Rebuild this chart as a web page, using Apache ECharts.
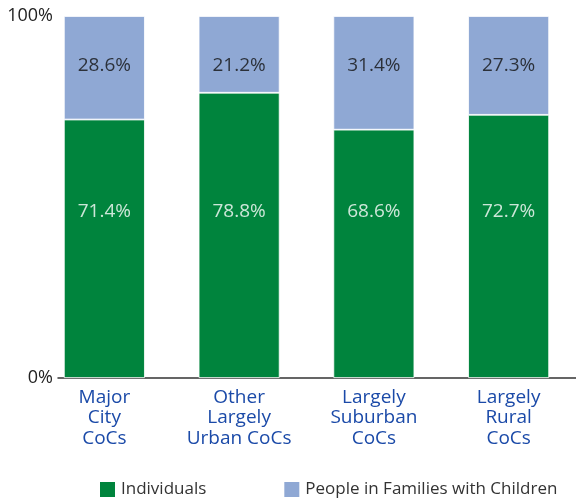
<!DOCTYPE html>
<html><head><meta charset="utf-8">
<script src="https://cdn.jsdelivr.net/npm/echarts@6/dist/echarts.min.js"></script>
<style>html,body{margin:0;padding:0;background:#fff}#c{width:576px;height:502px}</style>
</head><body><div id="c"></div>
<script>
const categories = ['Major\nCity\nCoCs', 'Other\nLargely\nUrban CoCs', 'Largely\nSuburban\nCoCs', 'Largely\nRural\nCoCs'];
const individuals = [71.4, 78.8, 68.6, 72.7];
const families = [28.6, 21.2, 31.4, 27.3];
const yTicks = ['0%', '100%'];
const seriesNames = ['Individuals', 'People in Families with Children'];

const FONT = '"Open Sans", Lato, sans-serif';
// value-label rows sit at fixed heights in the reference
const TOP_LABEL_Y = 86.4, BOTTOM_LABEL_Y = 46.1;

const chart = echarts.init(document.getElementById('c'), null, {renderer: 'canvas'});
const labelSeries = (vals, yPos, color) => ({
  type: 'scatter', xAxisIndex: 0, yAxisIndex: 0, symbolSize: 0, silent: true, z: 5,
  data: vals.map((v, i) => ({value: [i, yPos], raw: v})),
  label: {show: true, position: 'inside', color: color, fontSize: 19, fontFamily: FONT,
    formatter: p => p.data.raw.toFixed(1) + '%'}
});
chart.setOption({
  animation: false,
  textStyle: {fontFamily: FONT},
  legend: {
    top: 480, left: 98, padding: 0, itemWidth: 17, itemHeight: 17, itemGap: 76, icon: 'rect',
    textStyle: {fontSize: 17, color: '#333', fontFamily: FONT},
    data: seriesNames
  },
  grid: [
    {left: 37, width: 547, top: 16, bottom: 124},
    {left: 58, right: 0, top: 16, bottom: 124}
  ],
  xAxis: [
    {type: 'category', gridIndex: 0, data: categories,
     axisLine: {show: false}, axisTick: {show: false},
     axisLabel: {interval: 0, hideOverlap: false, color: '#1b4aa8', fontSize: 19, lineHeight: 20.5, margin: 9, fontFamily: FONT}},
    {type: 'category', gridIndex: 1, data: ['a'],
     axisLine: {show: true, lineStyle: {color: '#333', width: 1.5}}, axisTick: {show: false}, axisLabel: {show: false}}
  ],
  yAxis: [
    {type: 'value', gridIndex: 0, min: 0, max: 100, show: false},
    {type: 'value', gridIndex: 1, min: 0, max: 100, interval: 100,
     splitLine: {show: false}, axisLine: {show: false}, axisTick: {show: false},
     axisLabel: {color: '#222', fontSize: 18, margin: 5, fontFamily: FONT, padding: [6, 0, 0, 0],
       formatter: v => v === 0 ? yTicks[0] : yTicks[1]}}
  ],
  series: [
    {name: seriesNames[0], type: 'bar', stack: 's', xAxisIndex: 0, yAxisIndex: 0, barWidth: 81,
     data: individuals, itemStyle: {color: '#00843d', borderColor: '#fff', borderWidth: 0.8}},
    {name: seriesNames[1], type: 'bar', stack: 's', xAxisIndex: 0, yAxisIndex: 0, barWidth: 81,
     data: families, itemStyle: {color: '#8fa8d4', borderColor: '#fff', borderWidth: 0.8}},
    labelSeries(families, TOP_LABEL_Y, '#111'),
    labelSeries(individuals, BOTTOM_LABEL_Y, '#fff')
  ]
});
</script></body></html>
